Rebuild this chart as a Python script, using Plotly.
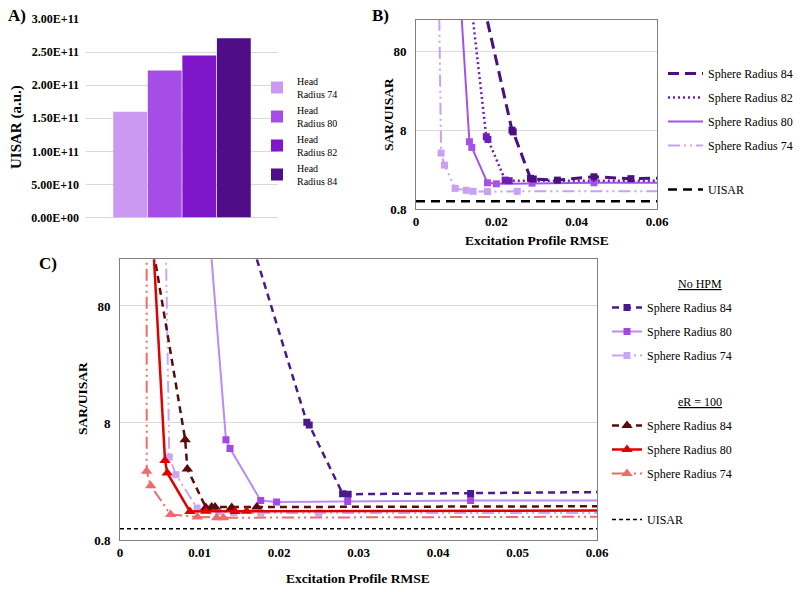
import numpy as np
import plotly.graph_objects as go

# ---------------- data ----------------
# Panel A : UISAR per head radius
bar_names = ["Head<br>Radius 74", "Head<br>Radius 80", "Head<br>Radius 82", "Head<br>Radius 84"]
bar_values = [1.60e11, 2.22e11, 2.45e11, 2.71e11]
bar_colors = ["#CC99F2", "#A64DE8", "#7E17C9", "#4F0D88"]
a_tickvals = [0, 5e10, 1e11, 1.5e11, 2e11, 2.5e11, 3e11]
a_ticktext = ["0.00E+00", "5.00E+10", "1.00E+11", "1.50E+11", "2.00E+11", "2.50E+11", "3.00E+11"]

# Panel B : SAR/UISAR vs excitation RMSE
b84_x = [0.0150, 0.0239, 0.0242, 0.0285, 0.0292, 0.0352, 0.0443, 0.0535, 0.0700]
b84_y = [820, 8.0, 7.6, 1.96, 1.92, 1.86, 2.05, 1.94, 2.00]
b82_x = [0.0130, 0.0175, 0.0179, 0.0222, 0.0232, 0.0700]
b82_y = [685, 6.6, 6.1, 1.86, 1.83, 1.82]
b80_x = [0.0110, 0.0133, 0.0139, 0.0178, 0.0200, 0.0289, 0.0443, 0.0700]
b80_y = [423, 5.7, 4.83, 1.72, 1.67, 1.70, 1.72, 1.72]
b74_x = [0.0057, 0.00625, 0.0071, 0.00975, 0.0125, 0.0142, 0.0178, 0.0252, 0.0700]
b74_y = [470, 4.1, 2.88, 1.46, 1.38, 1.34, 1.33, 1.34, 1.35]

# Panel C : No HPM vs eR = 100
c84_x = [0.0150, 0.0235, 0.0238, 0.0280, 0.0287, 0.0441, 0.0700]
c84_y = [620, 8.1, 7.7, 1.99, 1.97, 2.00, 2.08]
c80_x = [0.0110, 0.01333, 0.01384, 0.0177, 0.0197, 0.02864, 0.0441, 0.0700]
c80_y = [560, 5.76, 4.85, 1.74, 1.69, 1.71, 1.74, 1.74]
c74_x = [0.0057, 0.0062, 0.00704, 0.0097, 0.0124, 0.0143, 0.0177, 0.0250, 0.0700]
c74_y = [500, 4.1, 2.89, 1.50, 1.40, 1.37, 1.36, 1.36, 1.36]
e84_x = [0.0040, 0.0082, 0.00847, 0.0108, 0.01153, 0.01195, 0.01405, 0.0172, 0.0700]
e84_y = [290, 5.76, 3.24, 1.52, 1.53, 1.53, 1.52, 1.53, 1.56]
e80_x = [0.0040, 0.00566, 0.00595, 0.0088, 0.0108, 0.01447, 0.01594, 0.0700]
e80_y = [448, 3.83, 2.99, 1.40, 1.41, 1.40, 1.41, 1.43]
e74_x = [0.00335, 0.00336, 0.00386, 0.00637, 0.00973, 0.01216, 0.0130, 0.0700]
e74_y = [500, 3.09, 2.33, 1.32, 1.26, 1.24, 1.24, 1.27]

uisar_x = [0, 0.06]
uisar_y = [1, 1]

rmse_b_ticks = [0, 0.02, 0.04, 0.06]
rmse_b_text = ["0", "0.02", "0.04", "0.06"]
rmse_c_ticks = [0, 0.01, 0.02, 0.03, 0.04, 0.05, 0.06]
rmse_c_text = ["0", "0.01", "0.02", "0.03", "0.04", "0.05", "0.06"]
sar_ticks = [0.8, 8, 80]
sar_text = ["0.8", "8", "80"]

SERIF = "Liberation Serif"
DDOT = "12px,4px,2px,4px,2px,4px"

fig = go.Figure()

# ---- Panel A bars ----
for name, val, col in zip(bar_names, bar_values, bar_colors):
    fig.add_trace(go.Bar(x=["UISAR"], y=[val], name=name, marker_color=col,
                         marker_line_width=0, xaxis="x", yaxis="y", legend="legend"))

# ---- Panel B ----
b_series = [
    (b84_x, b84_y, "Sphere Radius 84", "#4B0F84", "11px,6px", 3, 1),
    (b82_x, b82_y, "Sphere Radius 82", "#6E1DB8", "2px,3px", 2.5, 2),
    (b80_x, b80_y, "Sphere Radius 80", "#A552E8", "solid", 2, 3),
    (b74_x, b74_y, "Sphere Radius 74", "#C9A0F2", DDOT, 2, 4),
]
for x, y, name, col, dash, w, rank in b_series[::-1]:
    fig.add_trace(go.Scatter(x=x, y=y, mode="lines", name=name,
                             line=dict(color=col, dash=dash, width=w),
                             xaxis="x2", yaxis="y2", legend="legend2",
                             legendgroup="b%d" % rank, legendrank=rank))
    fig.add_trace(go.Scatter(x=x, y=y, mode="markers", showlegend=False,
                             marker=dict(symbol="square", size=7, color=col),
                             xaxis="x2", yaxis="y2"))
fig.add_trace(go.Scatter(x=uisar_x, y=uisar_y, mode="lines", name="UISAR",
                         line=dict(color="black", dash="9px,6px", width=2.5),
                         xaxis="x2", yaxis="y2", legend="legend6"))

# ---- Panel C ----
fig.add_trace(go.Scatter(x=uisar_x, y=uisar_y, mode="lines", name="UISAR",
                         line=dict(color="black", dash="4px,3px", width=1.5),
                         xaxis="x3", yaxis="y3", legend="legend5"))
c_series = [
    (c74_x, c74_y, "Sphere Radius 74", "#C9A6F4", "#C9A6F4", DDOT, 2, "square", 7, "legend3", 3),
    (c80_x, c80_y, "Sphere Radius 80", "#B88CF0", "#A347E6", "solid", 2, "square", 7, "legend3", 2),
    (c84_x, c84_y, "Sphere Radius 84", "#4B1A8A", "#4B1A8A", "7px,5px", 2.5, "square", 7, "legend3", 1),
    (e74_x, e74_y, "Sphere Radius 74", "#F06A6A", "#F06A6A", DDOT, 2, "triangle-up", 10, "legend4", 3),
    (e84_x, e84_y, "Sphere Radius 84", "#5C0A0A", "#5C0A0A", "7px,5px", 2.5, "triangle-up", 10, "legend4", 1),
    (e80_x, e80_y, "Sphere Radius 80", "#E00000", "#E00000", "solid", 2.5, "triangle-up", 10, "legend4", 2),
]
for x, y, name, lcol, mcol, dash, w, sym, ms, leg, rank in c_series:
    fig.add_trace(go.Scatter(x=x, y=y, mode="lines+markers", name=name,
                             line=dict(color=lcol, dash=dash, width=w),
                             marker=dict(symbol=sym, size=ms, color=mcol),
                             xaxis="x3", yaxis="y3", legend=leg,
                             legendgroup=leg + str(rank), legendrank=rank))

H = 592.0
W = 800.0


def py(v):
    return 1 - v / H


axis_box = dict(showline=True, mirror=True, linecolor="#7F7F7F", linewidth=1,
                zeroline=False, ticks="")
tick_font = dict(family=SERIF, size=13, weight="bold", color="black")

leg_common = dict(bgcolor="rgba(0,0,0,0)", borderwidth=0, xanchor="left", yanchor="top",
                  font=dict(family=SERIF, size=12, color="black"))

fig.update_layout(
    width=800, height=592, template="none",
    margin=dict(l=0, r=0, t=0, b=0),
    paper_bgcolor="white", plot_bgcolor="white",
    font=dict(family=SERIF, size=12, color="black"),
    barmode="group", bargap=0.28, bargroupgap=0.02,
    xaxis=dict(domain=[86 / W, 278 / W], anchor="y", showticklabels=False, showgrid=False,
               zeroline=False, showline=False, ticks=""),
    yaxis=dict(domain=[py(217.5), py(19)], anchor="x", range=[0, 3e11],
               tickvals=a_tickvals, ticktext=a_ticktext, showgrid=True,
               gridcolor="#D9D9D9", zeroline=True, zerolinecolor="#D9D9D9", showline=False,
               ticks="", tickfont=dict(family=SERIF, size=12, weight="bold", color="black"),
               ticklabelstandoff=6),
    xaxis2=dict(domain=[416 / W, 657 / W], anchor="y2", range=[0, 0.06],
                tickvals=rmse_b_ticks, ticktext=rmse_b_text, showgrid=False,
                tickfont=tick_font, **axis_box),
    yaxis2=dict(domain=[py(209), py(20)], anchor="x2", type="log",
                range=[np.log10(0.8), 2.3], tickvals=sar_ticks, ticktext=sar_text,
                showgrid=True, gridcolor="#D9D9D9", tickfont=tick_font,
                ticklabelstandoff=6, **axis_box),
    xaxis3=dict(domain=[120 / W, 597 / W], anchor="y3", range=[0, 0.06],
                tickvals=rmse_c_ticks, ticktext=rmse_c_text, showgrid=False,
                tickfont=tick_font, **axis_box),
    yaxis3=dict(domain=[py(540), py(259.3)], anchor="x3", type="log",
                range=[np.log10(0.8), 2.302], tickvals=sar_ticks, ticktext=sar_text,
                showgrid=True, gridcolor="#D9D9D9", tickfont=tick_font,
                ticklabelstandoff=6, **axis_box),
    legend=dict(x=257 / W, y=py(68), tracegroupgap=0,
                **{**leg_common, "font": dict(family=SERIF, size=10, color="black")}),
    legend2=dict(x=663 / W, y=py(59), tracegroupgap=5, itemwidth=35, **leg_common),
    legend6=dict(x=663 / W, y=py(175), itemwidth=35, **leg_common),
    legend3=dict(x=607 / W, y=py(293), tracegroupgap=5, **leg_common),
    legend4=dict(x=607 / W, y=py(411), tracegroupgap=5, **leg_common),
    legend5=dict(x=607 / W, y=py(505), **leg_common),
)

ann = [
    dict(text="<b>A)</b>", x=6 / W, y=py(16), font=dict(size=17)),
    dict(text="<b>B)</b>", x=370 / W, y=py(16), font=dict(size=17)),
    dict(text="<b>C)</b>", x=37 / W, y=py(263), font=dict(size=17)),
]
for a in ann:
    a.update(xref="paper", yref="paper", xanchor="left", yanchor="middle", showarrow=False)
    fig.add_annotation(**a)

titles = [
    ("<b>UISAR (a.u.)</b>", 17, 127, -90, 15),
    ("<b>SAR/UISAR</b>", 388, 115, -90, 13.5),
    ("<b>Excitation Profile RMSE</b>", 537, 240, 0, 13.5),
    ("<b>SAR/UISAR</b>", 82, 399, -90, 13.5),
    ("<b>Excitation Profile RMSE</b>", 358, 578, 0, 13.5),
    ("<u>No HPM</u>", 700, 284, 0, 12),
    ("<u>eR = 100</u>", 700, 402, 0, 12),
]
for txt, xp, yp, ang, fs in titles:
    fig.add_annotation(text=txt, x=xp / W, y=py(yp), xref="paper", yref="paper",
                       xanchor="center", yanchor="middle", textangle=ang, showarrow=False,
                       font=dict(family=SERIF, size=fs, color="black"))

fig.write_html("out.html", config={"displayModeBar": False},
               post_script="document.body.style.margin='0';")
